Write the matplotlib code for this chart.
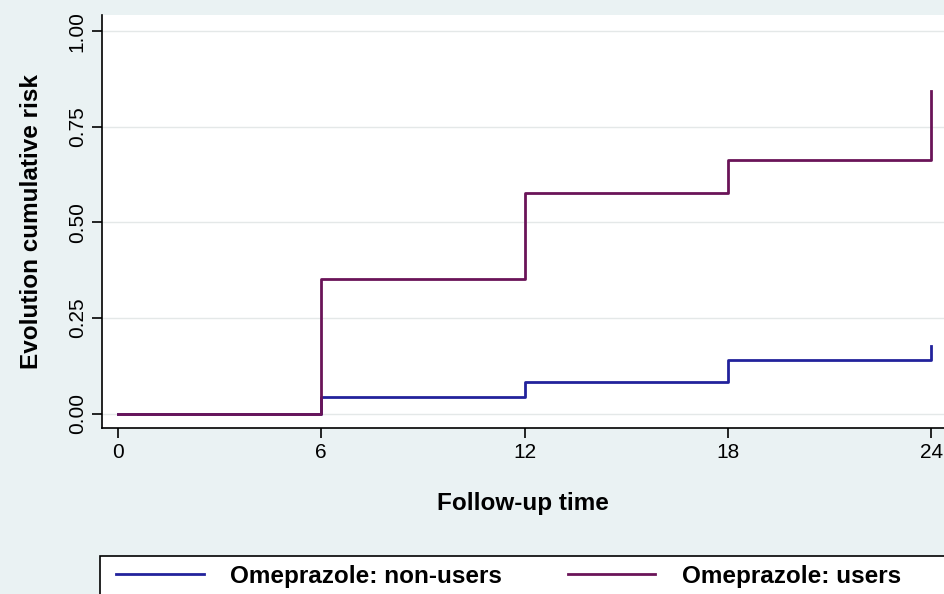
import matplotlib
matplotlib.use("Agg")
import matplotlib.pyplot as plt
from matplotlib.patches import Rectangle

# follow-up time (months) and cumulative risk
times = [0, 6, 12, 18, 24]
risk_non_users = [0.0, 0.044, 0.084, 0.141, 0.178]
risk_users = [0.0, 0.353, 0.577, 0.663, 0.843]
series_labels = ["Omeprazole: non-users", "Omeprazole: users"]
series_colors = ["#22229c", "#6a1458"]
y_ticks = [0.0, 0.25, 0.5, 0.75, 1.0]
y_ticklabels = ["0.00", "0.25", "0.50", "0.75", "1.00"]
x_ticks = [0, 6, 12, 18, 24]

plt.rcParams['font.family'] = ['Liberation Sans', 'DejaVu Sans']

bg = "#eaf2f3"
fig = plt.figure(figsize=(9.44, 5.94), dpi=100, facecolor=bg)
ax = fig.add_axes([102 / 944, 1 - 428 / 594, 1 - 102 / 944, (428 - 15) / 594])
ax.set_facecolor("white")

lines = []
for vals, col, lab in zip([risk_non_users, risk_users], series_colors, series_labels):
    ln, = ax.step(times, vals, where="post", color=col, lw=2.0, label=lab)
    lines.append(ln)

ax.set_xlim(-0.47, 24.38)
ax.set_ylim(-0.037, 1.042)

ax.set_yticks(y_ticks)
ax.set_yticklabels(y_ticklabels, rotation=90, va="center")
ax.set_xticks(x_ticks)
ax.tick_params(axis="both", labelsize=15, length=7, width=1.2, colors="black")
ax.tick_params(axis="y", pad=4)
ax.grid(axis="y", color="#e4e8e8", lw=1)
ax.set_axisbelow(True)

for s in ["top", "right"]:
    ax.spines[s].set_visible(False)
for s in ["left", "bottom"]:
    ax.spines[s].set_linewidth(1.2)

ax.set_ylabel("Evolution cumulative risk", fontsize=17.5, fontweight="bold", labelpad=18)
ax.set_xlabel("Follow-up time", fontsize=17.5, fontweight="bold", labelpad=22)

# legend frame running off the bottom-right like the reference
fig.patches.append(Rectangle((100 / 944, -0.1), 1.0, 0.1 + (594 - 556) / 594,
                             transform=fig.transFigure, facecolor="white",
                             edgecolor="black", lw=1.2, zorder=0))
fig.legend(handles=lines, labels=series_labels, ncol=2, frameon=False,
           loc="center left", bbox_to_anchor=(116 / 944, 1 - 576 / 594),
           borderpad=0, borderaxespad=0, handlelength=3.6, handletextpad=1.1,
           columnspacing=2.7, prop={"size": 17.5, "weight": "bold"})

fig.savefig("out.png", dpi=100, facecolor=bg)
